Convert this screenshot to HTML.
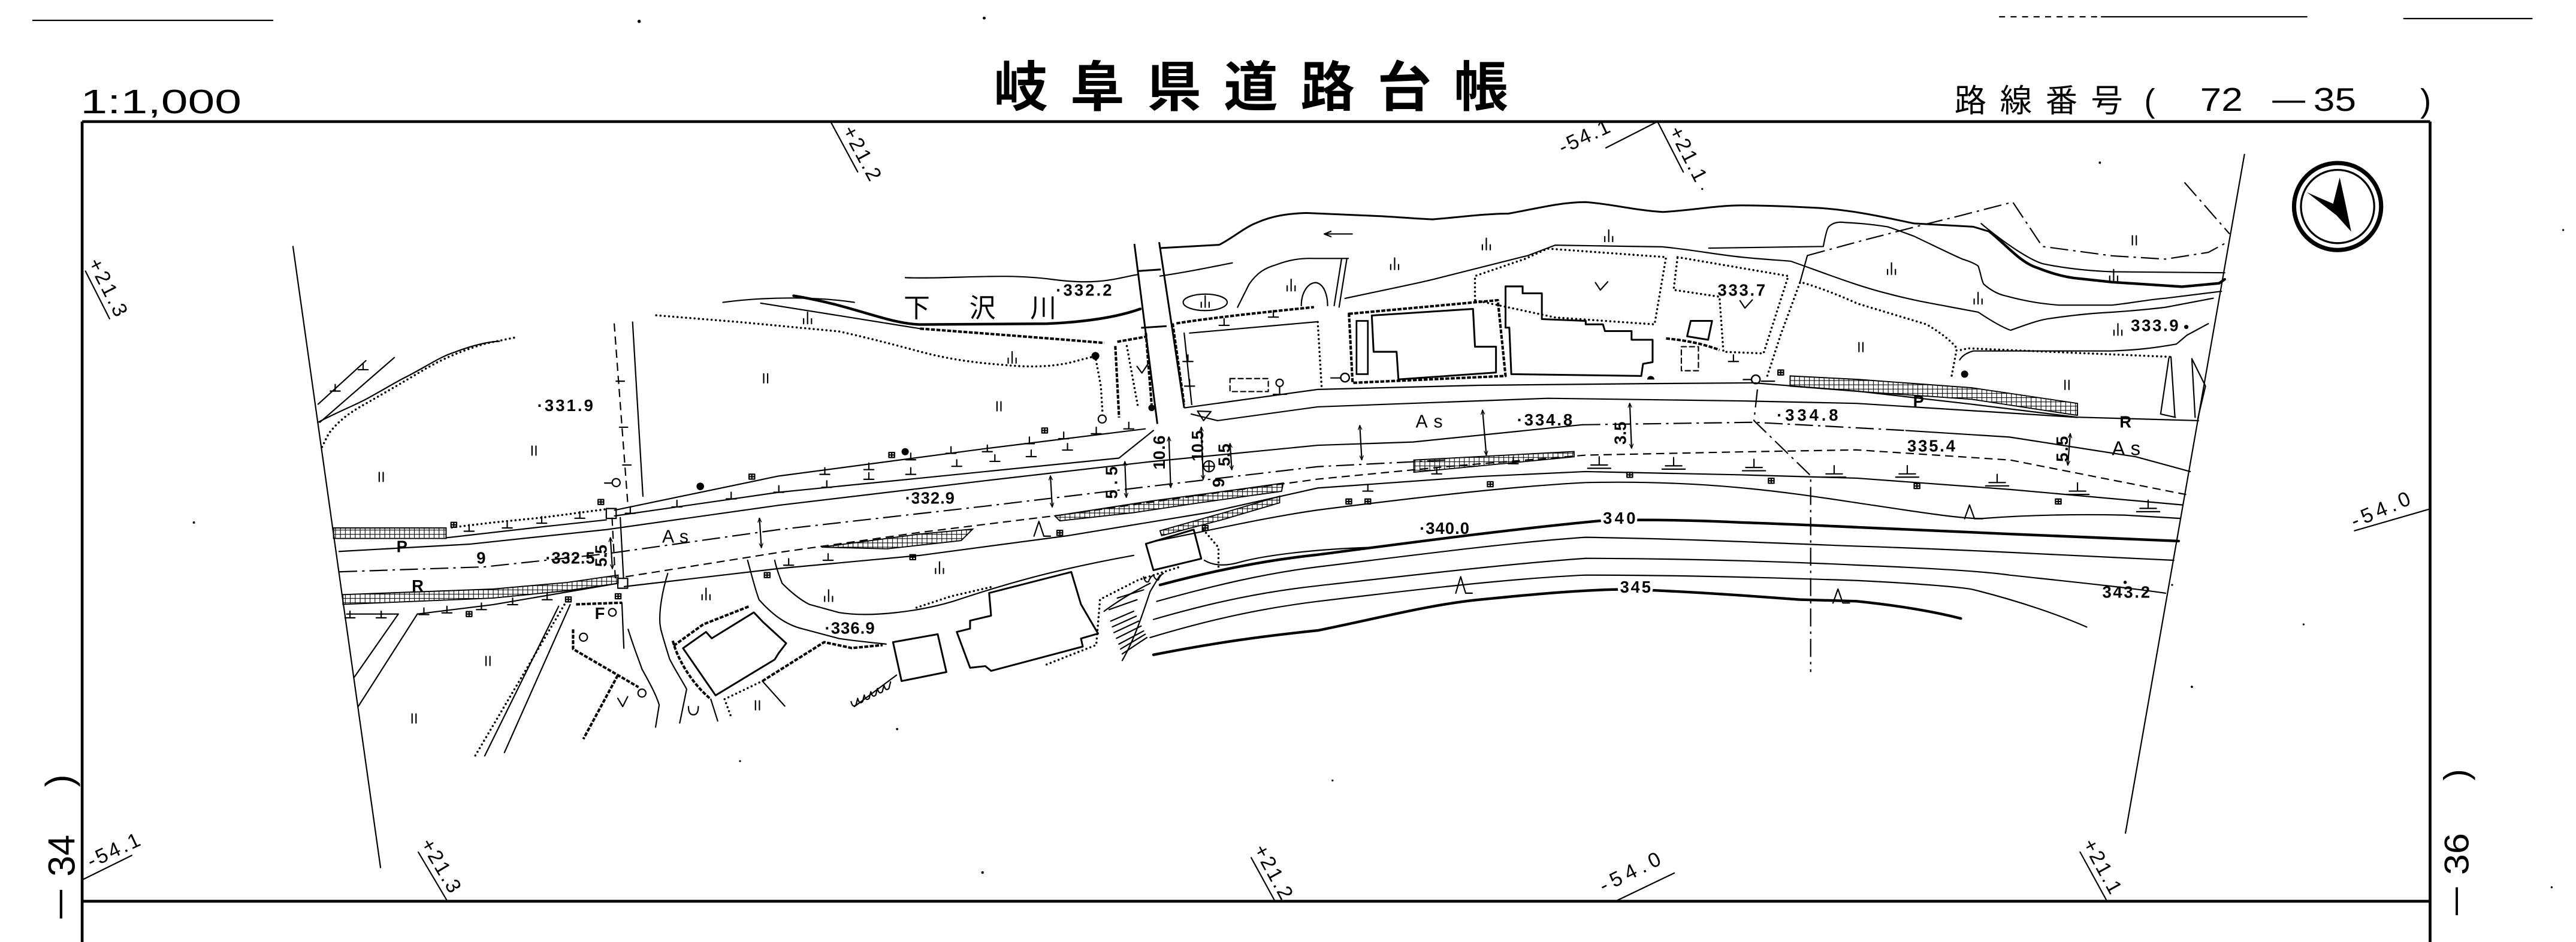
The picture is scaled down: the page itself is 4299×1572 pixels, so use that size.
<!DOCTYPE html>
<html><head><meta charset="utf-8"><title>岐阜県道路台帳</title>
<style>
html,body{margin:0;padding:0;background:#fff;width:4299px;height:1572px;overflow:hidden}
svg{display:block}
text{font-family:"Liberation Sans","Noto Sans CJK JP",sans-serif;fill:#000}
.t{fill:none;stroke:#000;stroke-width:.8;stroke-linejoin:round;stroke-linecap:round}
.m{fill:none;stroke:#000;stroke-width:1.1;stroke-linejoin:round}
.h{fill:none;stroke:#000;stroke-width:1.6;stroke-linejoin:round;stroke-linecap:round}
.d{fill:none;stroke:#000;stroke-width:1.3;stroke-dasharray:0 2.6;stroke-linecap:round}
.dd{fill:none;stroke:#000;stroke-width:.8;stroke-dasharray:5 3}
.dc{fill:none;stroke:#000;stroke-width:.8;stroke-dasharray:11 3 1.5 3}
.sc{fill:none;stroke:#000;stroke-width:1.5;stroke-dasharray:2.4 .9;stroke-linejoin:round}
.n{font-weight:bold;font-size:10px}
.w{paint-order:stroke;stroke:#fff;stroke-width:3px}
</style></head><body>
<svg width="4299" height="1572" viewBox="0 0 1567.8 573.3" preserveAspectRatio="none" xmlns="http://www.w3.org/2000/svg">
<defs>
<pattern id="grid" patternUnits="userSpaceOnUse" width="3" height="2.6">
<path d="M0,0V2.6M0,0H3" stroke="#000" stroke-width=".8" fill="none"/>
</pattern>
<marker id="ah" viewBox="0 0 6 6" refX="5.5" refY="3" markerWidth="3.5" markerHeight="3.5" orient="auto-start-reverse"><path d="M0,0.5 L6,3 L0,5.5" fill="none" stroke="#000" stroke-width="1"/></marker>
<path id="tk" d="M0,-4V0M-3,0H3"/>
<path id="tk2" d="M0,-5V0M-5,0H5M-7,2H7"/>
<path id="ta" d="M-1.7,-1.5H1.7V1.5H-1.7ZM0,-1.5V1.5M-1.7,0H1.7"/>
<path id="g2" d="M-1.2,-5.5V0M1.2,-5.5V0"/>
<path id="g3" d="M-2.4,-3V0M0,-7V0M2.4,-3V0"/>
</defs>

<!-- top scan artifacts -->
<path class="t" d="M20,12.4H166" stroke-width=".7"/>
<path class="t" d="M1217,10.2H1279" stroke-dasharray="3 4"/>
<path class="t" d="M1279,10.2H1404M1463,11.3H1541"/>
<circle cx="389" cy="13" r="1"/><circle cx="599" cy="11" r=".9"/>

<!-- headers -->
<text x="49" y="69" font-size="20.5" textLength="98" lengthAdjust="spacingAndGlyphs">1:1,000</text>
<g font-family="'Liberation Sans','Noto Sans CJK JP',sans-serif" font-size="33" font-weight="bold">
<text x="604.7" y="64.5">岐</text><text x="651.4" y="64.5">阜</text><text x="698.1" y="64.5">県</text><text x="744.8" y="64.5">道</text><text x="791.5" y="64.5">路</text><text x="838.2" y="64.5">台</text><text x="884.9" y="64.5">帳</text>
</g>
<g font-size="19.5">
<text x="1189.5" y="68">路</text><text x="1217.2" y="68">線</text><text x="1244.9" y="68">番</text><text x="1272.6" y="68">号</text>
<text x="1305" y="68" font-size="20">(</text>
<text x="1339" y="67.5" font-size="20" textLength="26" lengthAdjust="spacingAndGlyphs">72</text>
<text x="1383" y="67" font-size="20" textLength="20" lengthAdjust="spacingAndGlyphs">—</text>
<text x="1408" y="67.5" font-size="20" textLength="26" lengthAdjust="spacingAndGlyphs">35</text>
<text x="1473" y="68" font-size="20">)</text>
</g>

<!-- sheet numbers -->
<g font-size="23">
<text transform="translate(43,559) rotate(-90)" textLength="17.4" lengthAdjust="spacingAndGlyphs">—</text>
<text transform="translate(45.4,533.5) rotate(-90)" textLength="25.5" lengthAdjust="spacingAndGlyphs">34</text>
<text transform="translate(44,479) rotate(-90)">)</text>
</g>
<g font-size="21">
<text transform="translate(1500.5,557) rotate(-90)" textLength="17" lengthAdjust="spacingAndGlyphs">—</text>
<text transform="translate(1502.3,532.5) rotate(-90)" textLength="25.5" lengthAdjust="spacingAndGlyphs">36</text>
<text transform="translate(1502,475) rotate(-90)">)</text>
</g>

<!-- frame -->
<path d="M50,74H1479M50,74V573.3M1479,74V573.3M50,548.5H1479" fill="none" stroke="#000" stroke-width="1.7"/>

<!-- sheet cut lines -->
<path class="t" d="M178.3,150L231.6,528M1366,94L1293.6,507"/>

<!-- grid labels -->
<g class="t"><path d="M52,165L66.7,194M505.5,74L522,104.6M1008.8,74L1024.5,104.7M254.6,518.6L272,548M761.5,522L776,548.5M1266,518.6L1282.6,548.9M977.4,90L1008.8,74M51,535L80.2,520.6M983.2,548.5L1019,531.3M1433,323L1478,310"/></g>
<g font-size="12.5">
<text transform="translate(53.3,159.8) rotate(63)" textLength="38">+21.3</text>
<text transform="translate(512.4,79.3) rotate(61.7)" textLength="36">+21.2</text>
<text transform="translate(1015.5,79.5) rotate(62.9)" textLength="36">+21.1</text>
<text transform="translate(255.6,513.4) rotate(59.4)" textLength="36">+21.3</text>
<text transform="translate(762.7,516.8) rotate(61.3)" textLength="36">+21.2</text>
<text transform="translate(1267.2,513.4) rotate(61.3)" textLength="36">+21.1</text>
<text transform="translate(951,94) rotate(-25)" textLength="33">-54.1</text>
<text transform="translate(55.5,528.5) rotate(-25)" textLength="34">-54.1</text>
<text transform="translate(976,543.5) rotate(-26.5)" textLength="40">-54.0</text>
<text transform="translate(1433,321.5) rotate(-23)" textLength="38">-54.0</text>
</g>

<!-- north arrow -->
<circle cx="1422.7" cy="125.7" r="26.5" fill="none" stroke="#000" stroke-width="2.6"/>
<circle cx="1422.7" cy="125.7" r="22.3" fill="none" stroke="#000" stroke-width="1.2"/>
<polygon points="1424,108 1427.5,124 1431,141 1422,131 1404,117 1420,124 1421.5,118" fill="#000"/>

<!-- ===== MAP ===== -->
<path class="t" d="M193.6,246L222.7,219.5M194.7,257L240,217.6"/>
<path class="t" d="M193.6,257C205,251 215,247 222.7,243C232,238 240,233 246,230C258,224 268,217 276,214.6C288,210 297,208 304,207.7"/>
<path class="d" d="M196,272L200,264C206,256 213,251 222,246C236,238 248,231 258,225C270,218 282,213 296,209L313,205.5"/>
<g class="t"><use href="#tk" x="204" y="238"/><use href="#tk" x="221" y="225"/></g>

<path class="dd" d="M373.8,196.8L382,305.5"/>
<path class="t" d="M385,196L391.3,302"/>
<path class="t" d="M375,232h5M377,260h5M379,283h5"/>
<circle cx="375" cy="293.7" r="2.4" fill="#fff" stroke="#000" stroke-width=".8"/>
<path class="t" d="M368,294h4.6"/>
<circle cx="426.2" cy="296" r="2.3"/>
<circle cx="550.9" cy="274.9" r="2.2"/>
<circle cx="666.7" cy="216.6" r="2.4"/>
<circle cx="1195.7" cy="227.7" r="2.2"/>

<path class="d" d="M399.4,191.9L450,196L510.6,201.7C530,206 545,210 560,214C575,218 590,220.5 610,222C625,223.5 637,223.5 650,221L667,216.6"/>
<path class="d" d="M667,219L670,235L671,251"/>
<circle cx="670.8" cy="255" r="2.4" fill="#fff" stroke="#000" stroke-width=".8"/>

<!-- river -->
<path class="t" d="M440,184C470,180 500,181 520,184"/>
<path class="h" d="M483,180C520,186 540,197 560,197.5L637,197C660,196 680,193 694,188"/>
<path class="t" d="M463,184.5L510,192L560,200"/>
<path class="sc" d="M560,200C600,203 640,206 672,208.7"/>
<path class="t" d="M551,169C580,170 610,166 640,170S680,169 693,167"/>
<path class="t" d="M706,168C720,166 735,163 750,160"/>
<path class="m" d="M706,151L742,149C750,145 758,138 765,135.5C775,131 785,130 795,129.6L839,131.5C850,132 860,133 872,133.5C890,132 905,130 918,130C935,127 950,123 965,123C980,124 995,128 1012,129C1030,128 1045,125 1060,125C1080,125 1095,126 1106,126.5C1130,128 1150,133 1165,136L1201,138L1211,141"/>
<path class="h" d="M1211,141C1222,150 1230,160 1240,163C1250,167 1258,169 1266,169.6L1285.5,171.7L1328,174.5L1350.6,172.4L1354,170"/>
<path class="t" d="M1205.8,136.1C1220,148 1235,158 1243.2,160.5C1260,164 1275,165 1285.5,165.4L1354,166"/>
<path class="t" d="M1040,151L1109.7,150C1111,143 1112,139 1113,138C1116,135 1120,135 1122.7,135.4C1135,136 1142,137 1148.8,138C1155,140 1160,142 1165,143.8C1178,150 1188,155 1194.4,157.7C1202,160 1204,162 1204,162C1206,168 1206,171 1207.4,173C1212,177 1216,179 1220.4,180C1235,184 1245,185 1253,185.7L1285.5,185.7C1300,184 1310,182 1318,181.5L1352,177.3"/>
<path class="t" d="M818.6,181.6C840,177 860,173 872,170.1C900,163 920,158 930,155.5L946.5,149.2C970,149.5 990,150 1011.6,150.2C1030,152 1045,155 1060,156.5C1075,158 1085,158.5 1090,159C1110,166 1130,174 1149,178.7C1165,183 1178,185 1188,187L1204,190C1210,194 1218,199 1223.7,201C1232,198 1240,195 1246.5,194C1260,192 1275,190.5 1285.5,190C1300,189 1310,188 1318,187L1347,181.5"/>
<path class="t" d="M1344,197L1331,204L1324.6,209.4C1310,212 1300,213 1285.5,213.6L1201,213.6C1196,215 1194,217 1192.7,219"/>
<path class="t" d="M753.2,187L760.2,173C765,166 770,163 776.5,161.2C785,158 792,157 799.7,157.3L820.6,157.3M819.7,157.6L815,186.9M816.5,157.6L812,186"/>
<path class="t" d="M792,186C792,178 796,172 801,172C806,173 808,180 808,186"/>
<ellipse cx="733.5" cy="184" rx="13.4" ry="5" fill="none" stroke="#000" stroke-width=".8"/>
<path class="t" d="M806,142.4H823M806,142.4l4,-1.6M806,142.4l4,1.6" stroke-width="1.2"/>
<text x="550" y="193" font-size="16">下</text><text x="590" y="193" font-size="16">沢</text><text x="627" y="193" font-size="16">川</text>
<text class="n" x="642.7" y="180" textLength="34">·332.2</text>

<path class="dc" d="M1100,155.5L1135,146L1167,137.7L1194,131L1225,123L1243,150L1285.5,155.7L1318,157.7L1344,153.6L1357,146.6M1329.5,111L1357,142.4"/>
<path class="t" d="M1100,155.5L1095.4,172.2"/>
<path class="d" d="M1095.4,172.2L1083.8,203.6L1075.6,228.8"/>
<path class="d" d="M1097.7,172.2C1110,176 1120,180 1130.6,184.8L1172.5,197.4C1182,203 1188,208 1191,212L1187.6,229.8"/>
<path class="d" d="M1193.4,213L1198,212L1321.3,217.2"/>
<path class="t" d="M1320,218L1315,252L1324,254M1321.3,217.2L1323.7,253.9M1334,218.3L1342.3,235L1337.6,254.9M1334,218.3L1336,254"/>

<!-- bridge -->
<path class="m" d="M690.4,148.4L704.4,258M705.5,147.4L720.7,248.2M692,165L706.5,164M694.5,199.5L710,198.5"/>
<path class="sc" d="M678.8,210.6L681.1,254.1M697.4,202.7L700.9,246.2M713.7,196.8L720.7,246.2M680,208L697,205"/>
<path class="d" d="M685.8,210.6L692.7,248.2"/>
<path class="t" d="M692,223l3,4l4,-6"/>
<circle cx="700.9" cy="248.2" r="2" />

<path class="t" d="M720.7,202.7L725.3,246.2M724,202.7L802,195.8"/>
<path class="sc" d="M716,196.8C740,193 770,190 799.7,186.9"/>
<path class="d" d="M802,196L804.4,236.3"/>
<path class="t" d="M748.6,230.4h23.3v7.9h-23.3z" stroke-dasharray="3 2"/>
<circle cx="778.8" cy="233" r="2.2" fill="none" stroke="#000" stroke-width=".8"/><path class="t" d="M778.8,235.2V240M775,240H783"/>
<path class="t" d="M728.8,250.2L737,250.5L732.5,256Z"/>

<!-- right cluster buildings -->
<path class="sc" d="M821,191L911.6,182.7L916.3,228.8L823.2,233Z"/>
<rect x="825.6" y="195.3" width="6.9" height="32.4" fill="none" stroke="#000" stroke-width="1"/>
<path class="m" d="M834.9,192L896.5,188L897.7,211L910.5,211L910.5,226.7L851.1,230.9L850,214.1L836,214.1Z"/>
<path class="m" stroke-width="1.3" d="M916.3,174.3L926.7,174.3L926.7,178.5L938.4,178.5L938.4,194.2L965.1,195.3L965.1,197.4L975.6,197.4L976.8,201.5L993,201.5L993,206.8L1005.8,206.8L1005.8,220.4L1000,221.4L998.9,228.8L919.8,227.7L918.6,199.4L916.3,199.4Z"/>
<path class="d" d="M897.7,182.7L897.7,168L928,157.6L941.9,151.3L1014,156.5L1007,197.4L946.5,193.2Z"/>
<path class="d" d="M1021,156.5L1088.4,168L1073.3,215.1L1048.9,214.1L1046.5,180.6L1018.6,176.4Z"/>
<path class="t" d="M971,172l3,4.5l4.5,-5M1059,183l3,4.5l4.5,-5"/>
<text class="n" x="1045.4" y="180" textLength="29">333.7</text>
<path class="m" d="M1029,195.3L1042,195.3L1039.6,206.8L1026.8,204.7Z"/>
<path class="t" d="M1023.3,211h10.4v14.6h-10.4z" stroke-dasharray="3 2"/>
<path class="sc" d="M1014,206C1025,207 1036,209 1046.5,213"/>
<circle cx="818.6" cy="229.8" r="2.6" fill="#fff" stroke="#000" stroke-width=".9"/>
<circle cx="1068.6" cy="230.9" r="2.6" fill="#fff" stroke="#000" stroke-width=".9"/>
<path d="M1002.5,231a2.2,2.2 0 0 1 4.4,0z"/>
<path class="t" d="M810,230h6M1061,231h5M1072,232h8"/>

<!-- grid bands -->
<g fill="url(#grid)" stroke="#000" stroke-width=".7">
<path d="M203,321.3H271.5V327.7H203Z"/>
<path d="M208.7,361.9L300,358.5L345,354.5L376.2,350L376.2,355L345,359.5L300,364L208.7,367.8Z"/>
<path d="M500,333L560,325L592,322L585,329L540,334Z"/>
<path d="M642,314L700,305L760,297L781,294L780,299L730,306L690,312L645,317Z"/>
<path d="M706,323L745,312L778.8,302L778.8,306L745,316L707,326Z"/>
<path d="M860.5,280L958,274.8L958,278L860.5,287.4Z"/>
<path d="M1089.5,228.8L1130.6,230.9L1200,236L1264.4,245.5L1264.4,252.8L1200,243L1130.6,238.2L1089.5,235Z"/>
</g>

<!-- road lines -->
<path class="t" d="M271.5,327.3L332,320.4L369,316.4"/>
<path class="t" d="M374,310.5L474,289.7L600,273L697,261"/>
<path class="t" d="M721,248.2L802,237L900,234.5L1000,233.5L1067,233L1130,238L1200,246L1264,253.9L1338,256"/>
<path class="t" d="M374,314L474,299.6L560,291L681,278.8L702,262"/>
<path class="t" d="M725,252L741,256L802,247.6L942,242.4L1060,244L1130,245.5L1264.4,254"/>
<path class="t" d="M206.4,335.6L285.5,331.2L369.2,322.3L474,307.5L600,292.5L700,281L802,271L860,269L963,258.5"/>
<path class="dc" d="M963,258.5L1067.5,257L1160,262"/>
<path class="t" d="M1160,262L1223,266L1300,278L1333,287"/>
<path class="dc" d="M206.4,348L294.8,345L369.2,337L474,322.3L600,308L700,296L802,284L880,280"/>
<path class="dd" d="M380.8,351L474,336.2L560,324L646,313.4L740,300L802,291.6L880,284L965,277L1060,275L1130,273.8L1223.6,280L1330.6,301"/>
<path class="t" d="M211,373.7L242.4,373.7M254,373.7L300,368L376.2,355"/>
<path class="t" d="M380,357L474,346L560,338L650,326L735,312L802,297L900,290L965,287L1060,289L1130,291L1223.6,297.9L1328.3,307.3"/>
<path class="d" d="M275,321L300,318L330,315L368,310"/>
<path class="t" d="M369,309.5h6v6h-6zM376,352h6v6h-6z"/>
<path class="dd" d="M372.5,315L374.5,352"/>
<path class="t" d="M377.5,315L379.5,352"/>

<!-- contours -->
<path class="t" d="M700,330C740,322 770,315 802,310.4C860,303 920,296 965,293.7C1040,292 1090,300 1130,306C1170,312 1195,316 1207,315.5C1240,313 1270,313 1293,313.5L1327,315.5"/>
<path class="h" stroke-width="1.4" d="M706,356C740,347 770,341 802,337.6C860,330 920,322 976.7,316.7C1010,316 1040,317 1060,318C1090,319 1110,320 1130.6,320.9C1170,322.5 1200,324 1223.6,325L1326,329.3"/>
<path class="t" d="M704,366C740,356 770,349 802,345C860,338 920,330 965,327C1030,328 1090,331 1130,332.4C1180,334 1220,336 1240,337L1323,341"/>
<path class="t" d="M702,377C740,366 770,360 802,356.5C860,350 920,343 965,339.8C1030,340 1090,342 1130,343.9C1180,346 1210,348 1223,350C1260,354 1290,357 1318,361"/>
<path class="t" d="M700,388C740,376 770,370 802,366C860,359 920,352 965,350C1030,350 1090,352 1130,353.3C1165,355 1190,357 1200,358.6C1230,366 1255,375 1270,381.6"/>
<path class="h" stroke-width="1.4" d="M702,398.5C740,391 770,387 802,383.7C840,376 870,368 900,365C930,362 960,359 990,358.6C1030,360 1070,363 1095,364.9L1130,365.9C1160,369 1180,373 1193.4,376.4"/>
<path class="dc" d="M1069.6,237L1067.5,256L1102,289.5L1102,409"/>

<!-- hatched slope -->
<path class="t" d="M683,402C690,390 695,375 700,360L706,350M672,372C680,366 690,360 700,355"/>
<path class="t" d="M676,378L690,372M678,385L693,378M681,392L696,384M683,398L698,388M675,371L692,365M680,364L696,359M677,381.5L691.5,375M679.5,388.5L694.5,381M682,395L697,386"/>
<path class="t" d="M696,351q1,4 3,3q1,-3 3,-4q1,3 3,3q1,-3 3,-4"/>

<!-- lower left -->
<path class="t" d="M215.7,412L242.4,373.7M218,430L254,373.7"/>
<path class="t" d="M347,368L307,458M340,369L295,460"/>
<path class="d" d="M343.5,368L288,462" stroke-width="1"/>
<path class="sc" d="M350.6,367.8L378.5,366.8M348.8,383L348.8,395L388.6,418.2M376,411L355,449.8M409.5,390C412,400 420,415 432.6,425.5M464,414.5L501.6,390.8L518.4,394.4L537.2,392.6M410,393L428,380L456,369"/>
<path class="t" d="M378.5,366.8L379.7,394.5"/>
<text class="n" x="362" y="376.7" font-size="9">F</text>
<circle cx="372.7" cy="372.7" r="2.3" fill="none" stroke="#000" stroke-width=".8"/>
<circle cx="355.1" cy="387.8" r="2.4" fill="none" stroke="#000" stroke-width=".8"/>
<circle cx="390.7" cy="421.8" r="2.4" fill="none" stroke="#000" stroke-width=".8"/>
<path class="t" d="M376,425l3,5l3,-6M419,430q0,5 3,5q3,0 3,-5"/>
<path class="t" d="M406.4,349C403,360 401,372 401.7,380L402.2,383C404,390 406,396 407.5,401C411,408 415,414 417.9,419.4L413.7,440"/>
<path class="t" d="M382.3,383C386,395 389,402 390.7,407.2C395,415 399,422 401.2,429L399,442.5"/>
<path class="t" d="M432.6,425.5L436.8,438.8"/>
<path class="d" d="M441,425.5L445,436.4M441,425.5L464,414.5"/>
<path class="t" d="M464,414.5L477.6,429.7"/>
<path class="m" stroke-width="1.2" d="M415.7,394.5L429.7,384.6L433.2,388.5L458.8,372.7L464.5,378.7L478.5,391.5L473.9,397.5L471.5,401.4L435.5,423.2Z"/>
<path class="t" d="M455,341C458,352 460,360 462,365C470,374 478,380 488,382.6L510.6,388.6C520,390 530,391 539.3,392"/>
<path class="t" d="M471.5,341C473,348 475,352 476,355C482,361 487,365 492.5,367.8L510.6,372.8C530,376 560,372 580,366C610,356 640,347 690,338"/>
<path class="d" d="M557.8,369.8L578.8,362.9L604.4,357"/>
<path class="d" d="M637,404.4L667.2,392.5L669.5,364.8L692.7,353L718,345"/>
<path class="d" d="M732.3,322.3L741.6,333.2L741.6,345"/>
<path class="m" d="M543.5,390.8L570.7,386L576,409L548.7,414.5Z"/>
<path class="m" d="M582.3,384.6L590.4,382.6L590.4,377.7L603.2,374.7L602,360.9L652,348.1L657.9,367.8L668.3,385.6L657.9,388.6L659,393.5L603.2,408.3L599.7,405.4L590.4,406.4Z"/>
<path class="m" d="M697.4,331L726.5,322.3L731.1,340L702,347Z"/>
<path class="t" stroke-width="1" d="M518,427q1,4 3,2l1,-4q1,4 3,2l1,-4q1,4 3,2l1,-4q1,4 3,2l1,-4q1,4 3,2l1,-4q1,4 3,2l1,-4 M520,430L545.6,410.9"/>
<path class="t" d="M733,341C738,344 745,345 755,342C770,338 800,334 839,333"/>

<!-- numbers / labels -->
<text class="n" x="327" y="250.2" textLength="34">·331.9</text>
<text class="n" x="332" y="343" textLength="30">·332.5</text>
<text class="n" x="290" y="343" font-size="9">9</text>
<text class="n" x="241.3" y="336" font-size="9">P</text>
<text class="n" x="250.6" y="360" font-size="9">R</text>
<text x="403" y="330.2" font-size="11" textLength="16">As</text>
<text class="n" transform="translate(369.2,345) rotate(-90)" font-size="8.5" textLength="13.5">5.5</text>
<text class="n w" x="550.9" y="306.5" textLength="30">·332.9</text>
<text class="n" transform="translate(680,303.6) rotate(-90)" font-size="9.5" textLength="19.8">5.5</text>
<text class="n" transform="translate(709,285.8) rotate(-90)" font-size="9.5" textLength="20.8">10.6</text>
<text class="n" transform="translate(732.3,280.8) rotate(-90)" font-size="9.5" textLength="18.8">10.5</text>
<text class="n" transform="translate(748.6,283.8) rotate(-90)" font-size="9" textLength="13.8">5.5</text>
<text class="n" transform="translate(745,296.6) rotate(-90)" font-size="9">9</text>
<circle cx="735.8" cy="283.8" r="3.3" fill="none" stroke="#000" stroke-width=".8"/><path class="t" d="M732.5,283.8h6.6M735.8,280.5v6.6"/>
<text x="861.6" y="260.2" font-size="11" textLength="16.4">As</text>
<text class="n" x="923.3" y="259" textLength="33.7">·334.8</text>
<text class="n" x="1081.4" y="256" textLength="37.3">·334.8</text>
<text class="n" transform="translate(989.5,270.6) rotate(-90)" font-size="9" textLength="14">3.5</text>
<text class="n" x="864" y="325" textLength="30.2">·340.0</text>
<text class="n w" x="975.6" y="318.8" textLength="19.8">340</text>
<text class="n w" x="986" y="360.7" textLength="18.7">345</text>
<text class="n" x="1160.8" y="274.8" textLength="29.2">335.4</text>
<text class="n" transform="translate(1258.5,281.1) rotate(-90)" font-size="9" textLength="15.7">5.5</text>
<text class="n" x="1164.3" y="247.6" font-size="9">P</text>
<text class="n" x="1290" y="260.2" font-size="9">R</text>
<text x="1285.3" y="277" font-size="12" textLength="17.4">As</text>
<text class="n" x="1279.5" y="363.8" textLength="29">343.2</text><circle cx="1293.4" cy="354.4" r="1"/>
<text class="n" x="1296.9" y="201.5" textLength="29">333.9</text><circle cx="1330.6" cy="199" r="1.3"/>
<text class="n" x="502" y="385.6" textLength="30.3">·336.9</text>

<!-- double arrows -->
<g class="t" marker-start="url(#ah)" marker-end="url(#ah)">
<path d="M462.2,315.4L463.4,333.2"/><path d="M639.3,289.7L640.4,308.5"/><path d="M827.6,259L828.8,279.8"/>
<path d="M902.3,249.7L904.6,276.9"/><path d="M991.9,245.5L993,272.7"/><path d="M1260,264L1258.5,283"/>
<path d="M684.6,281L685.5,302.6"/><path d="M711.4,266L712.5,296.6"/><path d="M731.1,260L732.3,291.7"/>
<path d="M748.6,270L749.7,285.8"/><path d="M371.5,327.3L372.7,346"/>
</g>

<path class="t" d="M886,361l3,-10l3,10h4M1115.6,367l3,-8.5l3,8.5h4M1195.7,315.7l3,-8.4l3,8.4h5M629.3,326.3l3,-9l3,9h4"/>

<g class="t">
<use href="#tk2" x="973.3" y="283"/><use href="#tk2" x="1018.6" y="283.5"/><use href="#tk2" x="1067.5" y="284.5"/>
<use href="#tk2" x="1116.3" y="288.4"/><use href="#tk2" x="1160.8" y="288.4"/><use href="#tk2" x="1215.5" y="293.7"/>
<use href="#tk2" x="1264.4" y="298.9"/><use href="#tk2" x="1307.4" y="309.4"/><use href="#tk" x="874.4" y="288.4"/>
<use href="#tk" x="921" y="282.2"/><use href="#tk" x="832.5" y="298.9"/>
<use href="#tk" x="285.5" y="323.3"/><use href="#tk" x="308.7" y="321.3"/><use href="#tk" x="329.7" y="318.4"/><use href="#tk" x="352.9" y="315.4"/>
<use href="#tk" x="213" y="376"/><use href="#tk" x="232" y="376"/><use href="#tk" x="258" y="374"/><use href="#tk" x="272" y="373"/>
<use href="#tk" x="293" y="371"/><use href="#tk" x="312" y="368"/><use href="#tk" x="333" y="365"/>
<use href="#tk" x="383.6" y="312.4"/><use href="#tk" x="412" y="308.5"/><use href="#tk" x="445" y="303.6"/><use href="#tk" x="474" y="299.6"/>
<use href="#tk" x="502" y="288.7"/><use href="#tk" x="528.8" y="285.8"/><use href="#tk" x="554.3" y="279.8"/><use href="#tk" x="578.8" y="275.9"/>
<use href="#tk" x="600.9" y="274.9"/><use href="#tk" x="626.5" y="270"/><use href="#tk" x="647.4" y="267"/><use href="#tk" x="667.2" y="264"/><use href="#tk" x="687" y="261"/>
<use href="#tk" x="503.2" y="296.6"/><use href="#tk" x="528.8" y="291.7"/><use href="#tk" x="554.3" y="288.7"/><use href="#tk" x="582.3" y="283.8"/>
<use href="#tk" x="605.5" y="280.8"/><use href="#tk" x="627.6" y="277.9"/><use href="#tk" x="649.7" y="273.9"/>
<use href="#tk" x="480" y="344"/><use href="#tk" x="504" y="341"/>
<use href="#tk" x="745" y="198"/><use href="#tk" x="775" y="193"/><use href="#tk" x="723" y="220"/><use href="#tk" x="724" y="235"/>
<use href="#tk" x="1055" y="220"/>
</g>

<g class="t" stroke-width=".6">
<use href="#ta" x="365.7" y="305.5"/><use href="#ta" x="276.2" y="319.4"/><use href="#ta" x="285.5" y="373.7"/><use href="#ta" x="345.9" y="364.8"/>
<use href="#ta" x="376.2" y="362.9"/><use href="#ta" x="466.9" y="350"/><use href="#ta" x="457.6" y="290.1"/><use href="#ta" x="542.7" y="276.9"/>
<use href="#ta" x="635.8" y="262"/><use href="#ta" x="555.5" y="339.1"/><use href="#ta" x="645" y="324.3"/><use href="#ta" x="733.5" y="321.3"/>
<use href="#ta" x="820.9" y="305.2"/><use href="#ta" x="832.5" y="305.2"/><use href="#ta" x="907" y="294.7"/><use href="#ta" x="991.9" y="289"/>
<use href="#ta" x="1078" y="292.6"/><use href="#ta" x="1166.7" y="295.8"/><use href="#ta" x="1252.7" y="305.2"/><use href="#ta" x="1083.8" y="226.7"/>
</g>

<g class="t">
<use href="#g2" x="232" y="293"/><use href="#g2" x="252" y="440"/><use href="#g2" x="297" y="405"/><use href="#g2" x="325" y="277"/>
<use href="#g2" x="466" y="233"/><use href="#g2" x="608" y="250"/><use href="#g2" x="461" y="432"/><use href="#g2" x="1132.6" y="214"/>
<use href="#g2" x="1258" y="237"/><use href="#g2" x="1299" y="149"/>
<use href="#g3" x="491.5" y="197"/><use href="#g3" x="616" y="221"/><use href="#g3" x="733.5" y="187"/><use href="#g3" x="785.8" y="177"/>
<use href="#g3" x="571.8" y="349"/><use href="#g3" x="504.3" y="366"/><use href="#g3" x="429.7" y="365"/><use href="#g3" x="848.8" y="164"/>
<use href="#g3" x="904.6" y="152"/><use href="#g3" x="979.1" y="147"/><use href="#g3" x="1151.2" y="167"/><use href="#g3" x="1286.4" y="171"/>
<use href="#g3" x="1203.9" y="185"/><use href="#g3" x="1289" y="204"/>
</g>

<g>
<circle cx="118" cy="318" r=".7"/><circle cx="598" cy="531" r=".8"/><circle cx="546" cy="443.7" r=".7"/><circle cx="450.4" cy="463.2" r=".6"/>
<circle cx="811" cy="475" r=".6"/><circle cx="1334" cy="418" r=".7"/><circle cx="1322" cy="356" r=".6"/><circle cx="1560" cy="140" r=".6"/>
<circle cx="1402" cy="380" r=".6"/><circle cx="1553" cy="540" r=".6"/><circle cx="1036" cy="115" r=".6"/><circle cx="1278" cy="99" r=".7"/>
</g>
</svg>
</body></html>
